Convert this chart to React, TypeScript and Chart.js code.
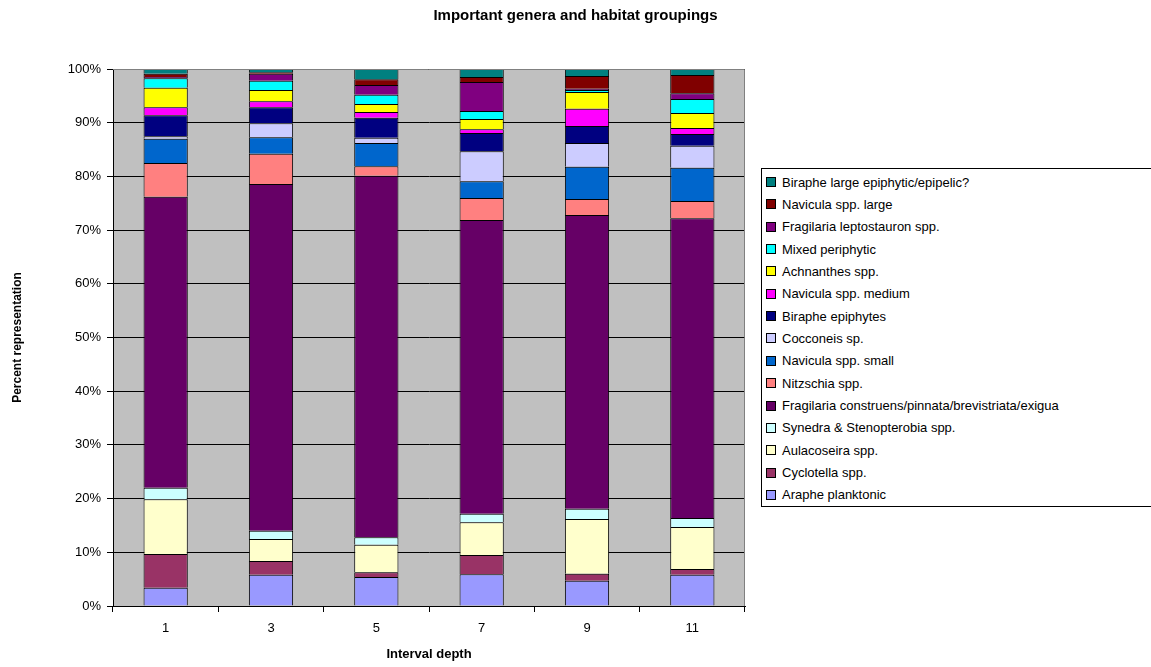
import React, { useEffect, useRef } from "react";
import { Chart, registerables } from "chart.js";

Chart.register(...registerables);

const categories = ["1", "3", "5", "7", "9", "11"];

const seriesNames = [
  "Araphe planktonic",
  "Cyclotella spp.",
  "Aulacoseira spp.",
  "Synedra & Stenopterobia spp.",
  "Fragilaria construens/pinnata/brevistriata/exigua",
  "Nitzschia spp.",
  "Navicula spp. small",
  "Cocconeis sp.",
  "Biraphe epiphytes",
  "Navicula spp. medium",
  "Achnanthes spp.",
  "Mixed periphytic",
  "Fragilaria leptostauron spp.",
  "Navicula spp. large",
  "Biraphe large epiphytic/epipelic?",
];

const seriesColors = [
  "#9999FF",
  "#993366",
  "#FFFFCC",
  "#CCFFFF",
  "#660066",
  "#FF8080",
  "#0066CC",
  "#CCCCFF",
  "#000080",
  "#FF00FF",
  "#FFFF00",
  "#00FFFF",
  "#800080",
  "#800000",
  "#008080",
];

const araphe = [3.4, 5.8, 5.4, 5.9, 4.7, 5.8];
const cyclotella = [6.3, 2.6, 0.9, 3.6, 1.3, 1.1];
const aulacoseira = [10.2, 4.1, 5.1, 6.1, 10.2, 7.8];
const synedra = [2.1, 1.5, 1.4, 1.6, 1.9, 1.7];
const fragConstruens = [54.2, 64.6, 67.3, 54.7, 54.7, 55.8];
const nitzschia = [6.3, 5.6, 1.8, 4.1, 3.0, 3.2];
const navSmall = [4.5, 3.1, 4.3, 3.1, 6.0, 6.2];
const cocconeis = [0.5, 2.6, 1.0, 5.6, 4.4, 4.1];
const birapheEpi = [3.9, 3.0, 3.7, 3.4, 3.2, 2.2];
const navMedium = [1.5, 1.1, 1.1, 0.7, 3.2, 1.1];
const achnanthes = [3.6, 2.1, 1.5, 1.9, 3.1, 2.8];
const mixedPeri = [1.8, 1.7, 1.7, 1.5, 0.4, 2.6];
const fragLepto = [0.2, 1.3, 1.8, 5.4, 0.2, 1.1];
const navLarge = [0.6, 0.3, 1.1, 0.9, 2.4, 3.4];
const birapheLarge = [0.9, 0.6, 1.9, 1.5, 1.3, 1.1];

const seriesValues = [
  araphe,
  cyclotella,
  aulacoseira,
  synedra,
  fragConstruens,
  nitzschia,
  navSmall,
  cocconeis,
  birapheEpi,
  navMedium,
  achnanthes,
  mixedPeri,
  fragLepto,
  navLarge,
  birapheLarge,
];

const yTicks = [0, 10, 20, 30, 40, 50, 60, 70, 80, 90, 100];

const FONT = "'Liberation Sans', Arial, sans-serif";

const plotBg = {
  id: "plotBg",
  beforeDraw(chart: any) {
    const { ctx, chartArea } = chart;
    ctx.save();
    ctx.fillStyle = "#C0C0C0";
    ctx.fillRect(chartArea.left, chartArea.top, chartArea.right - chartArea.left, chartArea.bottom - chartArea.top);
    ctx.restore();
  },
  afterDraw(chart: any) {
    const { ctx, chartArea } = chart;
    ctx.save();
    ctx.strokeStyle = "#808080";
    ctx.lineWidth = 1;
    ctx.beginPath();
    ctx.moveTo(chartArea.left, chartArea.top + 0.5);
    ctx.lineTo(chartArea.right - 0.5, chartArea.top + 0.5);
    ctx.lineTo(chartArea.right - 0.5, chartArea.bottom);
    ctx.stroke();
    ctx.restore();
  },
};

export default function App() {
  const canvasRef = useRef<HTMLCanvasElement | null>(null);

  useEffect(() => {
    if (!canvasRef.current) return;
    const chart = new Chart(canvasRef.current, {
      type: "bar",
      data: {
        labels: categories,
        datasets: seriesNames.map((name, i) => ({
          label: name,
          data: seriesValues[i],
          backgroundColor: seriesColors[i],
          borderColor: "#000000",
          borderWidth: 1,
          categoryPercentage: 1,
          barPercentage: 0.42,
        })),
      },
      options: {
        animation: false,
        responsive: false,
        maintainAspectRatio: false,
        layout: { padding: { left: 0, top: 69, right: 406, bottom: 0 } },
        plugins: {
          legend: { display: false },
          title: { display: false },
          tooltip: { enabled: false },
        },
        scales: {
          x: {
            stacked: true,
            afterFit: (scale: any) => {
              scale.height = 61;
            },
            grid: {
              display: true,
              drawOnChartArea: false,
              drawTicks: true,
              tickLength: 6,
              color: "#000000",
              offset: true,
            },
            border: { display: true, color: "#000000", width: 1 },
            ticks: {
              color: "#000000",
              padding: 9,
              font: { family: FONT, size: 13 },
            },
            title: {
              display: true,
              text: "Interval depth",
              color: "#000000",
              font: { family: FONT, size: 13, weight: "bold" },
              padding: { top: 0, bottom: 5 },
            },
          },
          y: {
            stacked: true,
            min: 0,
            max: 100,
            afterFit: (scale: any) => {
              scale.width = 113;
            },
            afterBuildTicks: (scale: any) => {
              scale.ticks = yTicks.map((v) => ({ value: v }));
            },
            grid: {
              color: "#000000",
              lineWidth: 1,
              tickLength: 6,
              drawTicks: true,
            },
            border: { display: true, color: "#000000", width: 1 },
            ticks: {
              color: "#000000",
              padding: 6,
              font: { family: FONT, size: 13 },
              callback: (v: any) => v + "%",
            },
            title: {
              display: true,
              text: "Percent representation",
              color: "#000000",
              font: { family: FONT, size: 12, weight: "bold" },
              padding: { top: 10, bottom: 0 },
            },
          },
        },
      },
      plugins: [plotBg],
    });
    return () => chart.destroy();
  }, []);

  const legendOrder = seriesNames.map((_, i) => i).reverse();

  return (
    <div
      style={{
        position: "fixed",
        left: 0,
        top: 0,
        width: 1151,
        height: 667,
        overflow: "hidden",
        background: "#FFFFFF",
        fontFamily: FONT,
      }}
    >
      <canvas ref={canvasRef} width={1151} height={667} style={{ position: "absolute", left: 0, top: 0 }} />
      <div
        style={{
          position: "absolute",
          left: 0,
          top: 6,
          width: 1151,
          textAlign: "center",
          fontSize: 15,
          fontWeight: "bold",
          color: "#000",
        }}
      >
        Important genera and habitat groupings
      </div>
      <div
        style={{
          position: "absolute",
          left: 761,
          top: 168,
          width: 420,
          height: 337,
          border: "1px solid #000",
          background: "#FFFFFF",
        }}
      >
        {legendOrder.map((idx, k) => (
          <div
            key={idx}
            style={{
              position: "absolute",
              left: 0,
              top: 4 + k * 22.35,
              height: 18,
              display: "flex",
              alignItems: "center",
              whiteSpace: "nowrap",
              fontSize: 13,
              color: "#000",
            }}
          >
            <span
              style={{
                display: "inline-block",
                width: 8,
                height: 8,
                marginLeft: 4,
                marginRight: 6,
                background: seriesColors[idx],
                border: "1px solid #000",
              }}
            />
            {seriesNames[idx]}
          </div>
        ))}
      </div>
    </div>
  );
}
